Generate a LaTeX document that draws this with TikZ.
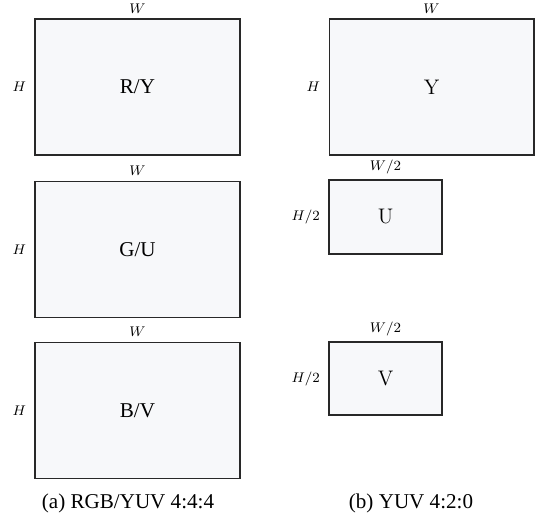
\documentclass[tikz,border=0pt]{standalone}
\usepackage{fontspec}
\setmainfont{Liberation Serif}
\newfontfamily\lmfont{Latin Modern Roman}
\usepackage{xcolor}
\definecolor{planefill}{RGB}{247,248,250}
\definecolor{planeline}{RGB}{40,40,40}
\usepackage{tikz}
\usetikzlibrary{positioning}

\tikzset{
  plane/.style={draw=planeline, fill=planefill, line width=0.6pt, inner sep=0pt, outer sep=0pt, font=\large},
  dimlbl/.style={inner sep=0pt, font=\footnotesize},
  caplbl/.style={inner sep=0pt, font=\large}
}

\begin{document}
\begin{tikzpicture}[x=0.02cm, y=-0.02cm]
  \useasboundingbox (0,0) rectangle (540,523);

  % --- Left: RGB/YUV 4:4:4 ---
  \node[plane, minimum width=4.1cm, minimum height=2.72cm] (RY) at (137.5,87) {R/Y};
  \node[plane, minimum width=4.1cm, minimum height=2.72cm] (GU) at (137.5,249.5) {G/U};
  \node[plane, minimum width=4.1cm, minimum height=2.72cm] (BV) at (137.5,410.5) {B/V};
  % dimensions
  \node[dimlbl, above=3pt of RY] (RYw) {$W$};
  \node[dimlbl, left=5pt of RY] (RYh) {$H$};
  \node[dimlbl, above=3pt of GU] (GUw) {$W$};
  \node[dimlbl, left=5pt of GU] (GUh) {$H$};
  \node[dimlbl, above=3pt of BV] (BVw) {$W$};
  \node[dimlbl, left=5pt of BV] (BVh) {$H$};

  % --- Right: YUV 4:2:0 ---
  \node[plane, font=\large\lmfont, minimum width=4.1cm, minimum height=2.72cm] (Y) at (431.5,87) {Y};
  \node[plane, font=\large\lmfont, minimum width=2.26cm, minimum height=1.48cm] (U) at (385.5,217) {U};
  \node[plane, font=\large\lmfont, minimum width=2.26cm, minimum height=1.46cm] (V) at (385.5,378.5) {V};
  % dimensions
  \node[dimlbl, above=3pt of Y] (Yw) {$W$};
  \node[dimlbl, left=5pt of Y] (Yh) {$H$};
  \node[dimlbl, above=3pt of U] (Uw) {$W/2$};
  \node[dimlbl, left=5pt of U] (Uh) {$H/2$};
  \node[dimlbl, above=3pt of V] (Vw) {$W/2$};
  \node[dimlbl, left=5pt of V] (Vh) {$H/2$};

  % Captions
  \node[caplbl] (capA) at (128,503) {(a) RGB/YUV 4:4:4};
  \node[caplbl] (capB) at (411,503) {(b) YUV 4:2:0};
\end{tikzpicture}
\end{document}
